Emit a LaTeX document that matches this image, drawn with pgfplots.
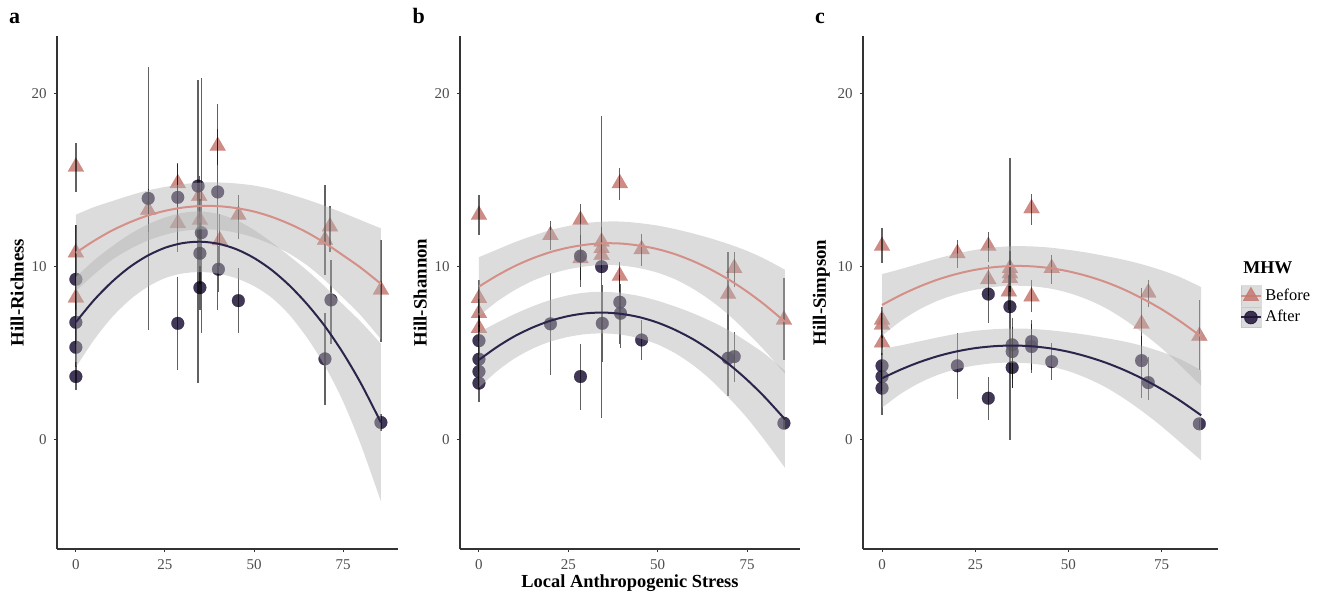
\documentclass[border=0pt]{standalone}
\usepackage{fontspec}
\setmainfont{Liberation Serif}
\usepackage{pgfplots}
\pgfplotsset{compat=1.18}
\usepackage{pgfplotstable}
\usepgfplotslibrary{fillbetween}

\definecolor{befcol}{RGB}{196,120,112}
\definecolor{befline}{RGB}{212,144,136}
\definecolor{aftcol}{RGB}{32,20,56}
\definecolor{aftline}{RGB}{45,36,75}
\definecolor{axcol}{RGB}{51,51,51}
\definecolor{tickcol}{RGB}{77,77,77}

% ---------- fitted curves: x, before fit, before half-width, after fit, after half-width
\pgfplotstableread{
x b bhw a ahw
0 10.79 2.20 6.79 2.60
5 11.47 1.95 8.04 2.30
10 12.06 1.70 9.09 2.05
15 12.54 1.55 9.95 1.90
20 12.93 1.45 10.61 1.80
25 13.21 1.38 11.08 1.75
30 13.40 1.35 11.35 1.75
35 13.49 1.35 11.43 1.75
40 13.48 1.37 11.31 1.72
45 13.37 1.42 11.00 1.68
50 13.17 1.50 10.49 1.62
55 12.86 1.60 9.79 1.60
60 12.45 1.72 8.89 1.70
65 11.95 1.90 7.80 1.95
70 11.34 2.15 6.52 2.30
75 10.64 2.45 5.00 2.80
80 9.92 2.75 3.25 3.55
85.6 9.00 3.20 1.00 4.55
}\aC
\pgfplotstableread{
x b bhw a ahw
0 8.84 1.70 4.61 1.60
5 9.47 1.50 5.35 1.40
10 10.02 1.38 5.98 1.28
15 10.47 1.30 6.48 1.22
20 10.83 1.27 6.87 1.20
25 11.09 1.25 7.14 1.20
30 11.26 1.25 7.30 1.20
35 11.34 1.25 7.34 1.20
40 11.32 1.27 7.26 1.20
45 11.20 1.30 7.07 1.22
50 11.00 1.36 6.76 1.26
55 10.70 1.45 6.33 1.35
60 10.30 1.60 5.79 1.50
65 9.81 1.80 5.13 1.70
70 9.23 2.05 4.35 1.95
75 8.55 2.35 3.46 2.20
80 7.78 2.65 2.45 2.50
85.6 6.81 3.00 1.18 2.80
}\bC
\pgfplotstableread{
x b bhw a ahw
0 7.78 1.78 3.55 1.70
5 8.35 1.50 4.05 1.40
10 8.84 1.32 4.48 1.20
15 9.25 1.22 4.83 1.08
20 9.57 1.17 5.10 1.02
25 9.81 1.15 5.29 1.00
30 9.96 1.14 5.40 0.98
35 10.03 1.14 5.44 0.98
40 10.01 1.15 5.40 1.00
45 9.91 1.18 5.28 1.04
50 9.72 1.24 5.08 1.12
55 9.45 1.35 4.80 1.25
60 9.10 1.50 4.45 1.42
65 8.66 1.72 4.02 1.65
70 8.13 1.98 3.51 1.90
75 7.53 2.25 2.92 2.15
80 6.83 2.55 2.25 2.40
85.6 5.96 2.85 1.41 2.60
}\cC

% ---------- points: x, y, lower, upper
\pgfplotstableread{
x y lo hi
0 15.75 14.3 17.1
0 10.8 9.0 12.4
0 8.2 7.0 9.4
20.3 13.26 12.0 14.5
28.6 14.8 13.5 15.9
28.6 12.5 10.85 14.0
34.6 14.06 12.8 15.2
34.8 12.68 11.5 13.9
39.8 16.95 15.85 17.96
40.4 11.5 10.0 13.0
45.6 12.97 11.6 14.1
69.9 11.53 9.5 14.7
71.3 12.3 10.85 13.5
85.6 8.65 5.67 11.5
}\aB
\pgfplotstableread{
x y lo hi
0 9.26 7.5 12.4
0 6.78 5.5 8.0
0 5.34 4.2 6.5
0 3.65 2.88 4.5
20.3 13.93 6.34 21.5
28.6 13.99 11.5 16.0
28.6 6.72 4.0 9.4
34.3 14.64 3.27 20.75
35.2 11.95 6.15 20.85
34.8 10.76 9.0 12.5
34.8 8.78 7.5 10.0
39.8 14.3 7.5 19.4
40.0 9.84 8.5 11.2
45.6 8.03 6.15 9.9
69.9 4.67 2.0 7.3
71.6 8.07 5.5 10.4
85.6 1.0 0.5 1.5
}\aA
\pgfplotstableread{
x y lo hi
0 12.97 11.8 14.1
0 8.17 7.3 9.2
0 7.3 6.5 8.1
0 6.44 5.7 7.2
20.0 11.8 10.95 12.6
28.4 12.68 11.5 13.6
28.4 10.47 8.84 11.5
34.3 11.43 10.5 12.3
34.3 11.05 10.2 11.9
34.3 10.66 9.9 11.5
39.4 14.8 13.83 15.66
39.4 9.45 8.5 10.28
45.5 10.99 10.0 11.9
69.7 8.41 6.5 10.85
71.4 9.9 8.84 10.85
85.3 6.92 4.61 9.32
}\bB
\pgfplotstableread{
x y lo hi
0 5.72 4.9 6.6
0 4.65 3.9 5.4
0 3.94 3.1 4.8
0 3.27 2.2 4.2
20.0 6.69 3.75 9.6
28.4 10.6 9.2 11.8
28.4 3.65 1.73 5.53
34.3 9.99 1.25 18.67
34.5 6.72 4.5 8.93
39.4 7.94 5.5 9.5
39.6 7.3 5.28 9.0
45.5 5.76 4.6 6.9
69.7 4.71 2.5 6.5
71.4 4.8 3.36 6.24
85.3 0.96 0.6 1.3
}\bA
\pgfplotstableread{
x y lo hi
0 11.18 10.2 12.2
0 6.92 6.2 7.68
0 6.63 5.9 7.3
0 5.61 4.9 6.3
20.2 10.76 9.9 11.5
28.5 11.18 10.28 12.0
28.5 9.26 8.3 10.1
34.3 9.9 9.0 10.9
34.3 9.6 8.8 10.4
34.3 9.32 8.5 10.1
34.0 8.55 7.5 9.5
40.1 13.35 12.4 14.2
40.1 8.26 7.4 9.2
45.5 9.9 8.99 10.66
69.6 6.69 4.5 8.74
71.4 8.49 7.68 9.22
85.1 5.99 4.03 8.07
}\cB
\pgfplotstableread{
x y lo hi
0 4.27 3.5 5.0
0 3.65 2.8 4.5
0 2.98 1.44 4.0
20.2 4.27 2.34 6.15
28.5 8.41 6.76 9.5
28.5 2.4 1.15 3.65
34.3 7.68 0.0 16.24
34.9 5.48 3.5 7.0
34.9 5.09 3.0 6.5
34.9 4.17 3.0 5.5
40.1 5.67 4.0 6.92
40.1 5.38 3.84 6.7
45.5 4.51 3.46 5.57
69.6 4.57 2.4 6.0
71.4 3.3 2.3 4.8
85.1 0.92 0.6 1.2
}\cA

\pgfplotsset{
 panel/.style={
  set layers,
  scale only axis, height=256.5pt,
  axis lines*=left,
  ymin=-6.3, ymax=23.3,
  xtick={0,25,50,75}, ytick={0,10,20},
  tick align=outside, major tick length=1.6pt,
  every tick/.style={axcol, line width=0.5pt},
  axis line style={axcol, line width=0.8pt},
  tick label style={font=\fontsize{7.5}{8}\selectfont, text=tickcol},
  /pgf/number format/assume math mode=true,
  ylabel style={at={(axis description cs:-0.117,0.5)}, anchor=center, font=\fontsize{9.4}{10}\selectfont\bfseries},
  xlabel style={at={(axis description cs:0.5,-0.066)}, anchor=center, font=\fontsize{9.2}{10}\selectfont\bfseries},
  clip=false, clip marker paths=true,
 },
 bpt/.style={only marks, mark=triangle*, mark size=4.6pt, befcol, mark options={solid, fill=befcol, draw=befcol, line width=0.1pt, opacity=0.85}, forget plot},
 apt/.style={only marks, mark=*, mark size=3.2pt, aftcol, mark options={solid, fill=aftcol, draw=aftcol, line width=0.1pt, opacity=0.85}, forget plot},
 ebar/.style={mark=none, draw=none, forget plot, error bars/.cd, y dir=both, y explicit, error mark=none, error bar style={draw=black, draw opacity=0.62, line width=0.65pt}},
 rib/.style={fill=gray!60, fill opacity=0.45, draw=none, forget plot},
}

\newcommand{\panelcontent}[4]{%
  \addplot[bpt] table[x=x,y=y] {#1};
  \addplot[apt] table[x=x,y=y] {#2};
  \addplot[ebar] table[x=x, y=y, y error plus expr=\thisrow{hi}-\thisrow{y}, y error minus expr=\thisrow{y}-\thisrow{lo}] {#1};
  \addplot[ebar] table[x=x, y=y, y error plus expr=\thisrow{hi}-\thisrow{y}, y error minus expr=\thisrow{y}-\thisrow{lo}] {#2};
  \addplot[name path=#4bu, draw=none, smooth, forget plot] table[x=x, y expr=\thisrow{b}+\thisrow{bhw}] {#3};
  \addplot[name path=#4bl, draw=none, smooth, forget plot] table[x=x, y expr=\thisrow{b}-\thisrow{bhw}] {#3};
  \addplot[rib] fill between[of=#4bu and #4bl, on layer=axis foreground];
  \addplot[on layer=axis foreground, befline, line width=1pt, smooth, forget plot] table[x=x, y=b] {#3};
  \addplot[name path=#4au, draw=none, smooth, forget plot] table[x=x, y expr=\thisrow{a}+\thisrow{ahw}] {#3};
  \addplot[name path=#4al, draw=none, smooth, forget plot] table[x=x, y expr=\thisrow{a}-\thisrow{ahw}] {#3};
  \addplot[rib] fill between[of=#4au and #4al, on layer=axis foreground];
  \addplot[on layer=axis foreground, aftline, line width=1pt, smooth, forget plot] table[x=x, y=a] {#3};
}

\begin{document}
\begin{tikzpicture}

\begin{axis}[panel, width=170.5pt, xmin=-5.3, xmax=90.4,
  at={(28.5pt,24pt)}, anchor=south west, ylabel={Hill-Richness}]
\panelcontent{\aB}{\aA}{\aC}{pa}
\node[anchor=base, font=\fontsize{11}{12}\selectfont\bfseries] at (axis description cs:-0.124,1.0234) {a};
\end{axis}

\begin{axis}[panel, width=170pt, xmin=-5.3, xmax=89.8,
  at={(230pt,24pt)}, anchor=south west, ylabel={Hill-Shannon},
  xlabel={Local Anthropogenic Stress}]
\panelcontent{\bB}{\bA}{\bC}{pb}
\node[anchor=base, font=\fontsize{11}{12}\selectfont\bfseries] at (axis description cs:-0.121,1.0234) {b};
\end{axis}

\begin{axis}[panel, width=177.5pt, xmin=-5.1, xmax=90.1,
  at={(431.5pt,24pt)}, anchor=south west, ylabel={Hill-Simpson},
  legend style={at={(1.0606,0.5146)}, anchor=north west, inner sep=0pt,
    draw=none, fill=none, font=\fontsize{8.2}{9}\selectfont, row sep=0pt,
    nodes={inner xsep=1.75pt, inner ysep=0pt}},
  legend cell align=left]
\panelcontent{\cB}{\cA}{\cC}{pc}
\node[anchor=base, font=\fontsize{11}{12}\selectfont\bfseries] at (axis description cs:-0.121,1.0234) {c};
\addlegendimage{legend image code/.code={
  \fill[gray!60, opacity=0.45] (0pt,-5.15pt) rectangle (10pt,5.15pt);
  \draw[befline, line width=1pt] (0pt,0pt) -- (10pt,0pt);
  \fill[befcol, opacity=0.85] (5pt,4.3pt) -- (1.3pt,-2.15pt) -- (8.7pt,-2.15pt) -- cycle;
}}
\addlegendentry{Before}
\addlegendimage{legend image code/.code={
  \fill[gray!60, opacity=0.45] (0pt,-5.15pt) rectangle (10pt,5.15pt);
  \draw[aftline, line width=1pt] (0pt,0pt) -- (10pt,0pt);
  \fill[aftcol, opacity=0.85] (5pt,0pt) circle[radius=3.2pt];
}}
\addlegendentry{After}
\end{axis}
\node[anchor=west, inner sep=0pt, font=\fontsize{9}{10}\selectfont\bfseries] at (621.5pt,164.5pt) {MHW};
\pgfresetboundingbox
\path[use as bounding box] (0,0) rectangle (666pt,298.5pt);
\end{tikzpicture}
\end{document}
